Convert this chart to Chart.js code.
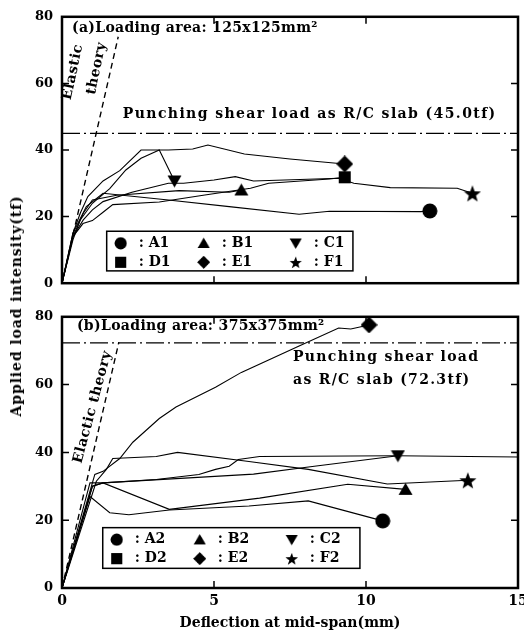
<!DOCTYPE html>
<html>
<head>
<meta charset="utf-8">
<script src="https://cdn.jsdelivr.net/npm/chart.js@4.4.1/dist/chart.umd.min.js"></script>
<style>
  html, body { margin: 0; padding: 0; overflow: hidden; background: #fff; }
  #wrap { position: relative; width: 524px; height: 637px; overflow: hidden; }
  #wrap canvas { position: absolute; left: 0; }
  #haut { top: 0; }
  #bas { top: 300px; }
  #titreY {
    position: absolute; left: 16px; top: 306px;
    transform: translate(-50%, -50%) rotate(-90deg);
    font: bold 14px 'DejaVu Serif'; letter-spacing: 0.9px; white-space: nowrap; color: #000;
  }
</style>
</head>
<body>
<div id="wrap">
  <canvas id="haut" width="542" height="300"></canvas>
  <canvas id="bas" width="542" height="337"></canvas>
  <div id="titreY">Applied load intensity(tf)</div>
</div>
<script>
// Deflection (mm) / load (tf)
const NAMES_A = ['A1', 'B1', 'C1', 'D1', 'E1', 'F1']
const NAMES_B = ['A2', 'B2', 'C2', 'D2', 'E2', 'F2']
const SHAPES  = ['circle', 'triangle', 'triangleDown', 'square', 'diamond', 'star']

// (a) loading area 125x125
const A1 = [[0,0],[0.36,15],[0.8,23],[1.35,27],[3.5,25],[5.5,23],[7.8,20.7],[8.8,21.6],[11.8,21.5],[12.1,21.7]]
const B1 = [[0,0],[0.36,14],[0.7,21],[1.0,25],[1.8,26.4],[3.85,27.8],[5.5,27.3],[5.9,28]]
const C1 = [[0,0],[0.36,13],[0.6,19],[1.0,24],[1.57,28.4],[2.1,34],[2.6,37.5],[3.2,40],[3.7,30.7]]
const D1 = [[0,0],[0.36,14],[0.69,17.9],[1.0,18.8],[1.35,21.3],[1.67,23.6],[3.2,24.4],[4.7,26.5],[6.2,28.5],[6.8,30],[8.8,31.3],[9.3,31.8]]
const E1 = [[0,0],[0.36,15],[0.6,21],[0.85,26],[1.35,30.7],[1.9,33.8],[2.6,40],[3.5,40],[4.3,40.3],[4.8,41.5],[6.0,38.8],[7.5,37.3],[9.3,35.8]]
const F1 = [[0,0],[0.36,14],[0.7,19],[1.0,22],[1.35,24.5],[2.3,27.3],[3.5,30],[4.0,30],[5.0,31],[5.7,32],[6.3,30.7],[9.1,31.5],[9.6,30],[10.8,28.7],[13.0,28.5],[13.5,27]]
const ELASTIC_A = [[0,0],[1.85,74]]
const PUNCH_A = 45.0

// (b) loading area 375x375
const A2 = [[0,0],[0.92,27],[1.57,22.2],[2.2,21.6],[3.53,23],[6.15,24.2],[8.1,25.7],[10.55,19.8]]
const B2 = [[0,0],[1.0,30],[1.35,31],[3.53,23.2],[6.5,26.5],[9.4,30.6],[11.3,29.1]]
const C2 = [[0,0],[0.92,31],[1.35,31],[6.3,33.6],[8.3,35.9],[11.05,39]]
const D2 = [[0,0],[1.0,30],[1.35,31],[3.1,32],[4.5,33.5],[5.05,35],[5.5,35.9],[5.8,37.9],[6.5,38.8],[11.0,39],[15.6,38.6]]
const E2 = [[0,0],[1.08,33.5],[1.35,34.4],[1.9,38.2],[2.33,43],[3.2,50],[3.75,53.4],[5.05,59.2],[5.9,63.6],[7.8,71.4],[9.1,76.7],[9.5,76.4],[10.1,77.6]]
const F2 = [[0,0],[0.9,25],[1.13,31.5],[1.46,35],[1.67,38.2],[3.1,38.8],[3.8,40],[6.15,37.3],[8.1,35],[10.7,30.7],[13.35,31.8]]
const ELASTIC_B = [[0,0],[1.87,72.5]]
const PUNCH_B = 72.3

const FONTE = "'DejaVu Serif', serif"
const NOTE = `bold 14px ${FONTE}`

Chart.defaults.font.family = FONTE
Chart.defaults.color = '#000'

// symboles pleins (le 'star' de Chart.js n'est qu'un astérisque)
function symbole(forme, t) {
  const c = document.createElement('canvas')
  c.width = c.height = t
  const g = c.getContext('2d')
  const m = t / 2
  g.fillStyle = '#000'
  g.beginPath()
  if (forme === 'circle') g.arc(m, m, m - 0.5, 0, 2 * Math.PI)
  else if (forme === 'square') g.rect(1, 1, t - 2, t - 2)
  else if (forme === 'triangle') { g.moveTo(m, 1); g.lineTo(t - 0.5, t - 2); g.lineTo(0.5, t - 2) }
  else if (forme === 'triangleDown') { g.moveTo(0.5, 2); g.lineTo(t - 0.5, 2); g.lineTo(m, t - 1) }
  else if (forme === 'diamond') { g.moveTo(m, 0); g.lineTo(t, m); g.lineTo(m, t); g.lineTo(0, m) }
  else if (forme === 'star') {
    for (let k = 0; k < 10; k++) {
      const r = k % 2 ? m * 0.42 : m
      const a = -Math.PI / 2 + k * Math.PI / 5
      g.lineTo(m + r * Math.cos(a), m + 1 + r * Math.sin(a))
    }
  }
  g.closePath()
  g.fill()
  return c
}
const TAILLES = { circle: 16, triangle: 15, triangleDown: 15, square: 14, diamond: 17, star: 18 }
const SYMB = {}
SHAPES.forEach(s => { SYMB[s] = symbole(s, TAILLES[s]) })

const pts = arr => arr.map(([x, y]) => ({ x, y }))

function jeux(series, noms, elastique, poinc) {
  const ds = series.map((s, i) => ({
    label: noms[i],
    data: pts(s),
    specimen: true,
    borderColor: '#000', borderWidth: 1.1,
    pointStyle: SYMB[SHAPES[i]],
    pointRadius: c => (c.dataIndex === s.length - 1 ? 7 : 0),
    pointHoverRadius: 0,
  }))
  ds.push({ data: pts(elastique), borderColor: '#000', borderWidth: 1.4, borderDash: [6, 4], pointRadius: 0 })
  ds.push({ data: [{ x: 0, y: poinc }, { x: 15, y: poinc }], borderColor: '#000', borderWidth: 1.3, borderDash: [18, 4, 2, 4], pointRadius: 0 })
  return ds
}

// cadre épais + graduations rentrantes
const cadre = {
  id: 'cadre',
  afterDatasetsDraw(chart) {
    const { ctx, chartArea: a, scales: { x, y } } = chart
    ctx.save()
    ctx.strokeStyle = '#000'
    ctx.lineWidth = 1.5
    ctx.beginPath()
    x.ticks.forEach(t => {
      if (t.value <= x.min || t.value >= x.max) return
      const p = x.getPixelForValue(t.value)
      ctx.moveTo(p, a.bottom); ctx.lineTo(p, a.bottom - 7)
      ctx.moveTo(p, a.top); ctx.lineTo(p, a.top + 7)
    })
    y.ticks.forEach(t => {
      if (t.value <= y.min || t.value >= y.max) return
      const p = y.getPixelForValue(t.value)
      ctx.moveTo(a.left, p); ctx.lineTo(a.left + 7, p)
      ctx.moveTo(a.right, p); ctx.lineTo(a.right - 7, p)
    })
    ctx.stroke()
    ctx.lineWidth = 2.5
    ctx.strokeRect(a.left, a.top, a.right - a.left, a.bottom - a.top)
    ctx.restore()
  },
}

function notes(liste) {
  return {
    id: 'notes',
    afterDatasetsDraw(chart) {
      const { ctx, scales: { x, y } } = chart
      ctx.save()
      ctx.fillStyle = '#000'
      ctx.font = NOTE
      ctx.textBaseline = 'middle'
      for (const n of liste) {
        ctx.save()
        ctx.letterSpacing = `${n.ls || 0}px`
        ctx.translate(x.getPixelForValue(n.x), y.getPixelForValue(n.y))
        ctx.rotate((n.rot || 0) * Math.PI / 180)
        ctx.textAlign = n.align || 'left'
        ctx.fillText(n.text, 0, 0)
        ctx.restore()
      }
      ctx.restore()
    },
  }
}

// légende encadrée dans la zone de tracé
function legende(b) {
  return {
    id: 'legende',
    afterDatasetsDraw(chart) {
      const { ctx, scales: { x, y } } = chart
      const l = x.getPixelForValue(b.x0), r = x.getPixelForValue(b.x1)
      const t = y.getPixelForValue(b.y0), bas = y.getPixelForValue(b.y1)
      ctx.save()
      ctx.fillStyle = '#fff'
      ctx.fillRect(l, t, r - l, bas - t)
      ctx.strokeStyle = '#000'
      ctx.lineWidth = 1.5
      ctx.strokeRect(l, t, r - l, bas - t)
      ctx.fillStyle = '#000'
      ctx.font = NOTE
      ctx.textBaseline = 'middle'
      chart.data.datasets.filter(d => d.specimen).forEach((d, i) => {
        const cx = l + [14, 97, 189][i % 3]
        const cy = t + [12, 31][Math.floor(i / 3)]
        ctx.drawImage(d.pointStyle, cx - 6.5, cy - 6.5, 13, 13)
        ctx.fillText(':', cx + 18, cy)
        ctx.fillText(d.label, cx + 28, cy)
      })
      ctx.restore()
    },
  }
}

function panneau(id, ds, hautX, avecX, plugins) {
  return new Chart(document.getElementById(id), {
    type: 'line',
    data: { datasets: ds },
    options: {
      responsive: false,
      animation: false,
      devicePixelRatio: 1,
      layout: { padding: { top: 13, right: 24, left: 0, bottom: 0 } },
      plugins: { legend: { display: false }, tooltip: { enabled: false } },
      scales: {
        x: {
          type: 'linear', min: 0, max: 15,
          ticks: { stepSize: 5, display: avecX, padding: 5, color: '#000', font: { size: 14, weight: 'bold' } },
          grid: { display: false, drawTicks: false },
          border: { display: false },
          title: {
            display: avecX, text: 'Deflection at mid-span(mm)', color: '#000',
            font: { size: 14, weight: 'bold' }, padding: { top: 0, bottom: 5 },
          },
          afterFit: s => { s.height = hautX },
        },
        y: {
          min: 0, max: 80,
          ticks: { stepSize: 20, padding: 9, color: '#000', font: { size: 13, weight: 'bold' } },
          grid: { display: false, drawTicks: false },
          border: { display: false },
          afterFit: s => { s.width = 62 },
        },
      },
    },
    plugins,
  })
}

panneau('haut', jeux([A1, B1, C1, D1, E1, F1], NAMES_A, ELASTIC_A, PUNCH_A), 7, false, [
  legende({ x0: 1.47, x1: 9.57, y0: 15.6, y1: 3.7 }),
  notes([
    { text: '(a)Loading area: 125x125mm²', x: 0.33, y: 76.4, ls: 0.3 },
    { text: 'Punching shear load as R/C slab (45.0tf)', x: 2.0, y: 50.6, ls: 1.4 },
    { text: 'Elastic', x: 0.36, y: 63.4, rot: -78, align: 'center', ls: 0.5 },
    { text: 'theory', x: 1.14, y: 64.5, rot: -78, align: 'center', ls: 0.5 },
  ]),
  cadre,
])

panneau('bas', jeux([A2, B2, C2, D2, E2, F2], NAMES_B, ELASTIC_B, PUNCH_B), 49, true, [
  legende({ x0: 1.34, x1: 9.8, y0: 17.8, y1: 5.8 }),
  notes([
    { text: '(b)Loading area: 375x375mm²', x: 0.49, y: 77.2, ls: 0.35 },
    { text: 'Punching shear load', x: 7.6, y: 67.9, ls: 1.3 },
    { text: 'as R/C slab (72.3tf)', x: 7.6, y: 61.2, ls: 1.3 },
    { text: 'Elactic theory', x: 1.01, y: 53.4, rot: -75, align: 'center', ls: 0.5 },
  ]),
  cadre,
])
</script>
</body>
</html>
